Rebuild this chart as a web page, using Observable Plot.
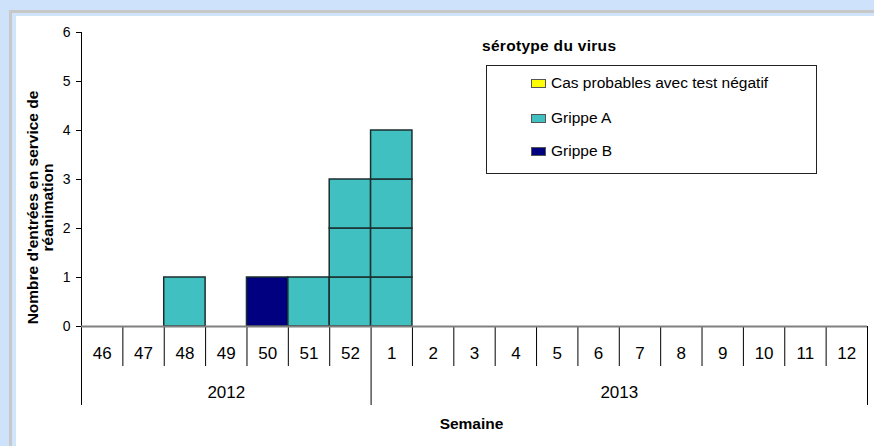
<!DOCTYPE html>
<html><head><meta charset="utf-8">
<script src="https://cdn.jsdelivr.net/npm/d3@7"></script>
<script src="https://cdn.jsdelivr.net/npm/@observablehq/plot@0.6"></script>
<style>
html,body{margin:0;padding:0;background:#cfe2fb;width:874px;height:446px;overflow:hidden;font-family:Arial,"Liberation Sans",sans-serif;}
#panel{position:absolute;left:9px;top:10px;width:900px;height:500px;border-left:3px solid #c8c8c8;border-top:3px solid #c8c8c8;background:#d0e4fc;}
#inner{position:absolute;left:4px;top:3px;right:0;bottom:0;background:#fff;}
#chart{position:absolute;left:0;top:0;}
#ltitle{position:absolute;left:482px;top:38px;font-weight:bold;font-size:15.5px;line-height:16px;letter-spacing:0.3px;color:#000;white-space:nowrap;}
#legend{position:absolute;left:486px;top:65px;width:329px;height:107px;border:1px solid #222;background:#fff;}
.item{position:absolute;left:44px;font-size:15.5px;line-height:16px;color:#000;white-space:nowrap;}
.sw{display:inline-block;width:15px;height:9px;border:1px solid #555;margin-right:5px;vertical-align:0px;box-sizing:border-box;}
</style>
</head><body>
<div id="panel"><div id="inner"></div></div>
<div id="chart"></div>
<div id="ltitle"></div>
<div id="legend"></div>
<script>
// ---- data ----
const weeks = ["46","47","48","49","50","51","52","1","2","3","4","5","6","7","8","9","10","11","12"];
const weekYear = ["2012","2012","2012","2012","2012","2012","2012","2013","2013","2013","2013","2013","2013","2013","2013","2013","2013","2013","2013"];
const series = ["Cas probables avec test négatif","Grippe A","Grippe B"];
const seriesColors = ["#ffff00","#41c0c2","#000080"];
const casProbables = [0,0,0,0,0,0,0,0,0,0,0,0,0,0,0,0,0,0,0];
const grippeA      = [0,0,1,0,0,1,3,4,0,0,0,0,0,0,0,0,0,0,0];
const grippeB      = [0,0,0,0,1,0,0,0,0,0,0,0,0,0,0,0,0,0,0];
const yTicks = [0,1,2,3,4,5,6];
const yLabel = "Nombre d'entrées en service de\nréanimation";
const xLabel = "Semaine";
const legendTitle = "sérotype du virus";

// ---- build unit cells ----
const valuesBySeries = [casProbables, grippeA, grippeB];
const cells = [];
weeks.forEach((w, i) => {
  let k = 0;
  series.forEach((s, si) => {
    for (let j = 0; j < valuesBySeries[si][i]; j++) {
      cells.push({x1: i, x2: i + 1, y1: k, y2: k + 1, series: s});
      k++;
    }
  });
});
// year groups
const years = [];
weekYear.forEach((y, i) => {
  const last = years[years.length - 1];
  if (last && last.year === y) last.end = i + 1;
  else years.push({year: y, start: i, end: i + 1});
});
const yearBounds = [0, ...years.map(d => d.end)];
const weekBounds = d3.range(1, weeks.length).filter(b => !yearBounds.includes(b));

const font = "Arial, 'Liberation Sans', sans-serif";
const plot = Plot.plot({
  width: 874, height: 446,
  marginLeft: 81, marginRight: 7, marginTop: 32, marginBottom: 120,
  x: {domain: [0, weeks.length], axis: null},
  y: {domain: [0, 6], axis: null},
  color: {domain: series, range: seriesColors},
  style: {fontFamily: font, background: "transparent", overflow: "visible", color: "#000"},
  marks: [
    Plot.rect(cells, {x1: "x1", x2: "x2", y1: "y1", y2: "y2", fill: "series", stroke: "#1b2e2e", strokeWidth: 1.5}),
    Plot.ruleX(weekBounds, {y1: 0, y2: 0, insetBottom: -40, stroke: "#000", strokeWidth: 1}),
    Plot.ruleX(yearBounds, {y1: 0, y2: 0, insetBottom: -79, stroke: "#000", strokeWidth: 1}),
    Plot.ruleX([0], {stroke: "#000", strokeWidth: 1, insetBottom: -79}),
    Plot.ruleY([0], {stroke: "#808080", strokeWidth: 2}),
    Plot.axisY(yTicks, {anchor: "left", tickSize: 5, tickPadding: 6, fontSize: 14, stroke: "#000"}),
    Plot.text(weeks, {x: (d, i) => i + 0.5, y: 0, dy: 27, text: d => d, fontSize: 17, fill: "#000"}),
    Plot.text(years, {x: d => (d.start + d.end) / 2, y: 0, dy: 66, text: "year", fontSize: 17, fill: "#000"}),
    Plot.text([xLabel], {frameAnchor: "bottom", lineAnchor: "middle", textAnchor: "middle", dx: -3, dy: 98, fontSize: 15.5, fontWeight: "bold", fill: "#000", letterSpacing: 0.4}),
    Plot.text([yLabel], {frameAnchor: "left", textAnchor: "middle", lineAnchor: "middle", rotate: -90, dx: -40.5, dy: 28, fontSize: 15.5, lineHeight: 0.97, fontWeight: "bold", fill: "#000"})
  ]
});
document.getElementById("chart").appendChild(plot);

// legend
document.getElementById("ltitle").textContent = legendTitle;
const lg = document.getElementById("legend");
const tops = [9, 44, 77];
series.forEach((s, i) => {
  const it = document.createElement("div");
  it.className = "item";
  it.style.top = tops[i] + "px";
  const sw = document.createElement("span");
  sw.className = "sw";
  sw.style.background = seriesColors[i];
  it.appendChild(sw);
  it.appendChild(document.createTextNode(s));
  lg.appendChild(it);
});
</script>
</body></html>
